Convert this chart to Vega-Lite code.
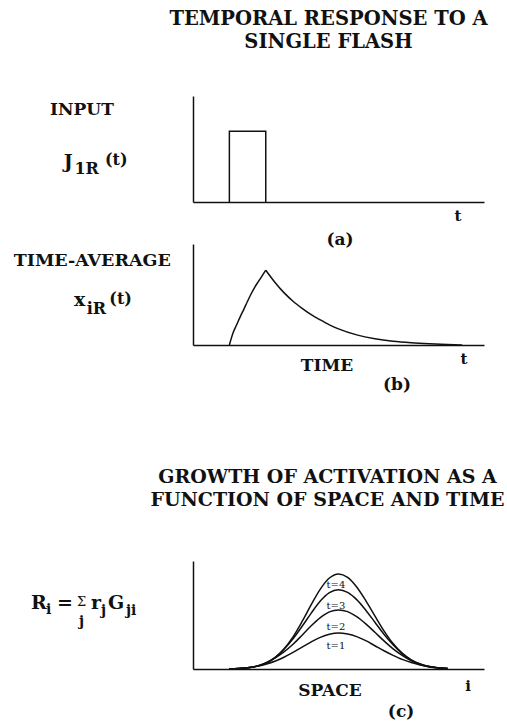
{
  "$schema": "https://vega.github.io/schema/vega-lite/v6.json",
  "background": "white",
  "padding": {"left": 13, "top": 8, "right": 0, "bottom": 0},
  "autosize": {"type": "pad"},
  "bounds": "flush",
  "spacing": 42,
  "config": {
    "view": {"stroke": null},
    "axis": {"labels": false, "ticks": false, "grid": false, "domainColor": "#111", "domainWidth": 1.5},
    "text": {"font": "DejaVu Serif", "fontWeight": "bold", "fill": "#111", "baseline": "alphabetic"},
    "line": {"stroke": "#111", "strokeWidth": 1.5}
  },
  "datasets": {
    "pulse": [
      {"k": 0, "t": 1, "J": 0},
      {"k": 1, "t": 1, "J": 1},
      {"k": 2, "t": 2, "J": 1},
      {"k": 3, "t": 2, "J": 0}
    ],
    "average": [
      {"seg": "rise", "t": 1.0, "x": 0},
      {"seg": "rise", "t": 1.1, "x": 0.16},
      {"seg": "rise", "t": 1.2, "x": 0.27},
      {"seg": "rise", "t": 1.3, "x": 0.38},
      {"seg": "rise", "t": 1.4, "x": 0.48},
      {"seg": "rise", "t": 1.5, "x": 0.585},
      {"seg": "rise", "t": 1.6, "x": 0.685},
      {"seg": "rise", "t": 1.7, "x": 0.775},
      {"seg": "rise", "t": 1.8, "x": 0.85},
      {"seg": "rise", "t": 1.9, "x": 0.925},
      {"seg": "rise", "t": 2.0, "x": 1.0},
      {"seg": "decay", "t": 2.0, "x": 1.0},
      {"seg": "decay", "t": 2.25, "x": 0.84},
      {"seg": "decay", "t": 2.5, "x": 0.7},
      {"seg": "decay", "t": 2.75, "x": 0.585},
      {"seg": "decay", "t": 3.0, "x": 0.49},
      {"seg": "decay", "t": 3.25, "x": 0.405},
      {"seg": "decay", "t": 3.5, "x": 0.335},
      {"seg": "decay", "t": 3.75, "x": 0.27},
      {"seg": "decay", "t": 4.0, "x": 0.215},
      {"seg": "decay", "t": 4.5, "x": 0.135},
      {"seg": "decay", "t": 5.0, "x": 0.083},
      {"seg": "decay", "t": 5.5, "x": 0.05},
      {"seg": "decay", "t": 6.0, "x": 0.03},
      {"seg": "decay", "t": 6.5, "x": 0.017},
      {"seg": "decay", "t": 7.0, "x": 0.008},
      {"seg": "decay", "t": 7.4, "x": 0.0}
    ],
    "growth": [
      {"step": "t=4", "i": 2, "R": 0.008}, {"step": "t=4", "i": 2.5, "R": 0.02}, {"step": "t=4", "i": 3, "R": 0.05},
      {"step": "t=4", "i": 3.5, "R": 0.12}, {"step": "t=4", "i": 4, "R": 0.25}, {"step": "t=4", "i": 4.5, "R": 0.475},
      {"step": "t=4", "i": 5, "R": 0.835}, {"step": "t=4", "i": 5.5, "R": 1.34}, {"step": "t=4", "i": 6, "R": 1.98},
      {"step": "t=4", "i": 6.5, "R": 2.68}, {"step": "t=4", "i": 7, "R": 3.33}, {"step": "t=4", "i": 7.5, "R": 3.79},
      {"step": "t=4", "i": 8, "R": 3.96}, {"step": "t=4", "i": 8.5, "R": 3.82}, {"step": "t=4", "i": 9, "R": 3.42},
      {"step": "t=4", "i": 9.5, "R": 2.85}, {"step": "t=4", "i": 10, "R": 2.21}, {"step": "t=4", "i": 10.5, "R": 1.59},
      {"step": "t=4", "i": 11, "R": 1.06}, {"step": "t=4", "i": 11.5, "R": 0.66}, {"step": "t=4", "i": 12, "R": 0.38},
      {"step": "t=4", "i": 12.5, "R": 0.21}, {"step": "t=4", "i": 13, "R": 0.1}, {"step": "t=4", "i": 13.5, "R": 0.048},
      {"step": "t=4", "i": 14, "R": 0.02},
      {"step": "t=3", "i": 2, "R": 0.008}, {"step": "t=3", "i": 2.5, "R": 0.02}, {"step": "t=3", "i": 3, "R": 0.05},
      {"step": "t=3", "i": 3.5, "R": 0.115}, {"step": "t=3", "i": 4, "R": 0.245}, {"step": "t=3", "i": 4.5, "R": 0.46},
      {"step": "t=3", "i": 5, "R": 0.82}, {"step": "t=3", "i": 5.5, "R": 1.26}, {"step": "t=3", "i": 6, "R": 1.78},
      {"step": "t=3", "i": 6.5, "R": 2.33}, {"step": "t=3", "i": 7, "R": 2.83}, {"step": "t=3", "i": 7.5, "R": 3.18},
      {"step": "t=3", "i": 8, "R": 3.3}, {"step": "t=3", "i": 8.5, "R": 3.19}, {"step": "t=3", "i": 9, "R": 2.89},
      {"step": "t=3", "i": 9.5, "R": 2.45}, {"step": "t=3", "i": 10, "R": 1.95}, {"step": "t=3", "i": 10.5, "R": 1.45},
      {"step": "t=3", "i": 11, "R": 1.01}, {"step": "t=3", "i": 11.5, "R": 0.64}, {"step": "t=3", "i": 12, "R": 0.37},
      {"step": "t=3", "i": 12.5, "R": 0.2}, {"step": "t=3", "i": 13, "R": 0.1}, {"step": "t=3", "i": 13.5, "R": 0.047},
      {"step": "t=3", "i": 14, "R": 0.02},
      {"step": "t=2", "i": 2, "R": 0.008}, {"step": "t=2", "i": 2.5, "R": 0.02}, {"step": "t=2", "i": 3, "R": 0.05},
      {"step": "t=2", "i": 3.5, "R": 0.11}, {"step": "t=2", "i": 4, "R": 0.24}, {"step": "t=2", "i": 4.5, "R": 0.45},
      {"step": "t=2", "i": 5, "R": 0.71}, {"step": "t=2", "i": 5.5, "R": 1.03}, {"step": "t=2", "i": 6, "R": 1.41},
      {"step": "t=2", "i": 6.5, "R": 1.8}, {"step": "t=2", "i": 7, "R": 2.14}, {"step": "t=2", "i": 7.5, "R": 2.38},
      {"step": "t=2", "i": 8, "R": 2.46}, {"step": "t=2", "i": 8.5, "R": 2.39}, {"step": "t=2", "i": 9, "R": 2.18},
      {"step": "t=2", "i": 9.5, "R": 1.88}, {"step": "t=2", "i": 10, "R": 1.53}, {"step": "t=2", "i": 10.5, "R": 1.17},
      {"step": "t=2", "i": 11, "R": 0.84}, {"step": "t=2", "i": 11.5, "R": 0.57}, {"step": "t=2", "i": 12, "R": 0.34},
      {"step": "t=2", "i": 12.5, "R": 0.18}, {"step": "t=2", "i": 13, "R": 0.09}, {"step": "t=2", "i": 13.5, "R": 0.043},
      {"step": "t=2", "i": 14, "R": 0.018},
      {"step": "t=1", "i": 2, "R": 0.008}, {"step": "t=1", "i": 2.5, "R": 0.02}, {"step": "t=1", "i": 3, "R": 0.05},
      {"step": "t=1", "i": 3.5, "R": 0.11}, {"step": "t=1", "i": 4, "R": 0.2}, {"step": "t=1", "i": 4.5, "R": 0.32},
      {"step": "t=1", "i": 5, "R": 0.49}, {"step": "t=1", "i": 5.5, "R": 0.69}, {"step": "t=1", "i": 6, "R": 0.91},
      {"step": "t=1", "i": 6.5, "R": 1.13}, {"step": "t=1", "i": 7, "R": 1.32}, {"step": "t=1", "i": 7.5, "R": 1.45},
      {"step": "t=1", "i": 8, "R": 1.5}, {"step": "t=1", "i": 8.5, "R": 1.46}, {"step": "t=1", "i": 9, "R": 1.35},
      {"step": "t=1", "i": 9.5, "R": 1.18}, {"step": "t=1", "i": 10, "R": 0.97}, {"step": "t=1", "i": 10.5, "R": 0.76},
      {"step": "t=1", "i": 11, "R": 0.57}, {"step": "t=1", "i": 11.5, "R": 0.4}, {"step": "t=1", "i": 12, "R": 0.27},
      {"step": "t=1", "i": 12.5, "R": 0.17}, {"step": "t=1", "i": 13, "R": 0.085}, {"step": "t=1", "i": 13.5, "R": 0.04},
      {"step": "t=1", "i": 14, "R": 0.017}
    ],
    "labels": [
      {"panel": "a", "role": "head", "text": "TEMPORAL RESPONSE TO A", "x": 3.725, "y": 2.505},
      {"panel": "a", "role": "head", "text": "SINGLE FLASH", "x": 3.725, "y": 2.183},
      {"panel": "a", "role": "name", "text": "INPUT", "x": -3.93, "y": 1.231},
      {"panel": "a", "role": "sym", "text": "J", "x": -3.554, "y": 0.481},
      {"panel": "a", "role": "sub", "text": "1R", "x": -3.26, "y": 0.396},
      {"panel": "a", "role": "arg", "text": "(t)", "x": -2.42, "y": 0.52},
      {"panel": "a", "role": "axlab", "text": "t", "x": 7.285, "y": -0.269},
      {"panel": "a", "role": "tag", "text": "(a)", "x": 4.04, "y": -0.608},
      {"panel": "b", "role": "name", "text": "TIME-AVERAGE", "x": -4.93, "y": 1.056},
      {"panel": "b", "role": "sym", "text": "x", "x": -3.272, "y": 0.521},
      {"panel": "b", "role": "sub", "text": "iR", "x": -2.92, "y": 0.414},
      {"panel": "b", "role": "arg", "text": "(t)", "x": -2.3, "y": 0.55},
      {"panel": "b", "role": "tag", "text": "TIME", "x": 3.684, "y": -0.348},
      {"panel": "b", "role": "axlab", "text": "t", "x": 7.45, "y": -0.254},
      {"panel": "b", "role": "tag", "text": "(b)", "x": 5.608, "y": -0.601},
      {"panel": "s", "role": "head", "text": "GROWTH OF ACTIVATION AS A", "x": 7.394, "y": 0.273},
      {"panel": "s", "role": "head", "text": "FUNCTION OF SPACE AND TIME", "x": 7.394, "y": 0.098},
      {"panel": "c", "role": "sym", "text": "R", "x": -8.907, "y": 2.5},
      {"panel": "c", "role": "fsub", "text": "i", "x": -8.082, "y": 2.29},
      {"panel": "c", "role": "sym", "text": "=", "x": -7.478, "y": 2.5},
      {"panel": "c", "role": "sigma", "text": "Σ", "x": -6.378, "y": 2.625},
      {"panel": "c", "role": "fsub", "text": "j", "x": -6.268, "y": 1.79},
      {"panel": "c", "role": "sym", "text": "r", "x": -5.608, "y": 2.5},
      {"panel": "c", "role": "fsub", "text": "j", "x": -5.058, "y": 2.25},
      {"panel": "c", "role": "sym", "text": "G", "x": -4.674, "y": 2.5},
      {"panel": "c", "role": "fsub", "text": "ji", "x": -3.684, "y": 2.25},
      {"panel": "c", "role": "tag", "text": "SPACE", "x": 7.53, "y": -1.125},
      {"panel": "c", "role": "axlab", "text": "i", "x": 15.12, "y": -0.917},
      {"panel": "c", "role": "tag", "text": "(c)", "x": 11.44, "y": -2.0},
      {"panel": "c", "role": "curve", "text": "t=4", "x": 7.86, "y": 3.375},
      {"panel": "c", "role": "curve", "text": "t=3", "x": 7.86, "y": 2.5},
      {"panel": "c", "role": "curve", "text": "t=2", "x": 7.86, "y": 1.625},
      {"panel": "c", "role": "curve", "text": "t=1", "x": 7.86, "y": 0.833}
    ]
  },
  "vconcat": [
    {
      "width": 291,
      "height": 106,
      "layer": [
        {
          "data": {"name": "pulse"},
          "mark": {"type": "line", "interpolate": "linear"},
          "encoding": {
            "x": {"field": "t", "type": "quantitative", "scale": {"domain": [0, 8], "nice": false}, "title": null},
            "y": {"field": "J", "type": "quantitative", "scale": {"domain": [0, 1.5], "nice": false}, "title": null},
            "order": {"field": "k"}
          }
        },
        {
          "data": {"name": "labels"},
          "transform": [{"filter": "datum.panel === 'a' && datum.role === 'head'"}],
          "mark": {"type": "text", "align": "center", "fontSize": 19.5},
          "encoding": {
            "x": {"field": "x", "type": "quantitative", "scale": {"domain": [0, 8], "nice": false}, "title": null},
            "y": {"field": "y", "type": "quantitative", "scale": {"domain": [0, 1.5], "nice": false}, "title": null},
            "text": {"field": "text"}
          }
        },
        {
          "data": {"name": "labels"},
          "transform": [{"filter": "datum.panel === 'a' && datum.role === 'name'"}],
          "mark": {"type": "text", "align": "left", "fontSize": 17},
          "encoding": {
            "x": {"field": "x", "type": "quantitative", "scale": {"domain": [0, 8], "nice": false}, "title": null},
            "y": {"field": "y", "type": "quantitative", "scale": {"domain": [0, 1.5], "nice": false}, "title": null},
            "text": {"field": "text"}
          }
        },
        {
          "data": {"name": "labels"},
          "transform": [{"filter": "datum.panel === 'a' && datum.role === 'sym'"}],
          "mark": {"type": "text", "align": "left", "fontSize": 19},
          "encoding": {
            "x": {"field": "x", "type": "quantitative", "scale": {"domain": [0, 8], "nice": false}, "title": null},
            "y": {"field": "y", "type": "quantitative", "scale": {"domain": [0, 1.5], "nice": false}, "title": null},
            "text": {"field": "text"}
          }
        },
        {
          "data": {"name": "labels"},
          "transform": [{"filter": "datum.panel === 'a' && datum.role === 'sub'"}],
          "mark": {"type": "text", "align": "left", "fontSize": 16},
          "encoding": {
            "x": {"field": "x", "type": "quantitative", "scale": {"domain": [0, 8], "nice": false}, "title": null},
            "y": {"field": "y", "type": "quantitative", "scale": {"domain": [0, 1.5], "nice": false}, "title": null},
            "text": {"field": "text"}
          }
        },
        {
          "data": {"name": "labels"},
          "transform": [{"filter": "datum.panel === 'a' && datum.role === 'arg'"}],
          "mark": {"type": "text", "align": "left", "fontSize": 16},
          "encoding": {
            "x": {"field": "x", "type": "quantitative", "scale": {"domain": [0, 8], "nice": false}, "title": null},
            "y": {"field": "y", "type": "quantitative", "scale": {"domain": [0, 1.5], "nice": false}, "title": null},
            "text": {"field": "text"}
          }
        },
        {
          "data": {"name": "labels"},
          "transform": [{"filter": "datum.panel === 'a' && datum.role === 'axlab'"}],
          "mark": {"type": "text", "align": "center", "fontSize": 15},
          "encoding": {
            "x": {"field": "x", "type": "quantitative", "scale": {"domain": [0, 8], "nice": false}, "title": null},
            "y": {"field": "y", "type": "quantitative", "scale": {"domain": [0, 1.5], "nice": false}, "title": null},
            "text": {"field": "text"}
          }
        },
        {
          "data": {"name": "labels"},
          "transform": [{"filter": "datum.panel === 'a' && datum.role === 'tag'"}],
          "mark": {"type": "text", "align": "center", "fontSize": 17},
          "encoding": {
            "x": {"field": "x", "type": "quantitative", "scale": {"domain": [0, 8], "nice": false}, "title": null},
            "y": {"field": "y", "type": "quantitative", "scale": {"domain": [0, 1.5], "nice": false}, "title": null},
            "text": {"field": "text"}
          }
        }
      ]
    },
    {
      "width": 291,
      "height": 101,
      "layer": [
        {
          "data": {"name": "average"},
          "mark": {"type": "line", "interpolate": "monotone"},
          "encoding": {
            "x": {"field": "t", "type": "quantitative", "scale": {"domain": [0, 8], "nice": false}, "title": null},
            "y": {"field": "x", "type": "quantitative", "scale": {"domain": [0, 1.35], "nice": false}, "title": null},
            "detail": {"field": "seg"}
          }
        },
        {
          "data": {"name": "labels"},
          "transform": [{"filter": "datum.panel === 'b' && datum.role === 'name'"}],
          "mark": {"type": "text", "align": "left", "fontSize": 17.5},
          "encoding": {
            "x": {"field": "x", "type": "quantitative", "scale": {"domain": [0, 8], "nice": false}, "title": null},
            "y": {"field": "y", "type": "quantitative", "scale": {"domain": [0, 1.35], "nice": false}, "title": null},
            "text": {"field": "text"}
          }
        },
        {
          "data": {"name": "labels"},
          "transform": [{"filter": "datum.panel === 'b' && datum.role === 'sym'"}],
          "mark": {"type": "text", "align": "left", "fontSize": 19},
          "encoding": {
            "x": {"field": "x", "type": "quantitative", "scale": {"domain": [0, 8], "nice": false}, "title": null},
            "y": {"field": "y", "type": "quantitative", "scale": {"domain": [0, 1.35], "nice": false}, "title": null},
            "text": {"field": "text"}
          }
        },
        {
          "data": {"name": "labels"},
          "transform": [{"filter": "datum.panel === 'b' && datum.role === 'sub'"}],
          "mark": {"type": "text", "align": "left", "fontSize": 16},
          "encoding": {
            "x": {"field": "x", "type": "quantitative", "scale": {"domain": [0, 8], "nice": false}, "title": null},
            "y": {"field": "y", "type": "quantitative", "scale": {"domain": [0, 1.35], "nice": false}, "title": null},
            "text": {"field": "text"}
          }
        },
        {
          "data": {"name": "labels"},
          "transform": [{"filter": "datum.panel === 'b' && datum.role === 'arg'"}],
          "mark": {"type": "text", "align": "left", "fontSize": 16},
          "encoding": {
            "x": {"field": "x", "type": "quantitative", "scale": {"domain": [0, 8], "nice": false}, "title": null},
            "y": {"field": "y", "type": "quantitative", "scale": {"domain": [0, 1.35], "nice": false}, "title": null},
            "text": {"field": "text"}
          }
        },
        {
          "data": {"name": "labels"},
          "transform": [{"filter": "datum.panel === 'b' && datum.role === 'axlab'"}],
          "mark": {"type": "text", "align": "center", "fontSize": 15},
          "encoding": {
            "x": {"field": "x", "type": "quantitative", "scale": {"domain": [0, 8], "nice": false}, "title": null},
            "y": {"field": "y", "type": "quantitative", "scale": {"domain": [0, 1.35], "nice": false}, "title": null},
            "text": {"field": "text"}
          }
        },
        {
          "data": {"name": "labels"},
          "transform": [{"filter": "datum.panel === 'b' && datum.role === 'tag'"}],
          "mark": {"type": "text", "align": "center", "fontSize": 17},
          "encoding": {
            "x": {"field": "x", "type": "quantitative", "scale": {"domain": [0, 8], "nice": false}, "title": null},
            "y": {"field": "y", "type": "quantitative", "scale": {"domain": [0, 1.35], "nice": false}, "title": null},
            "text": {"field": "text"}
          }
        }
      ]
    },
    {
      "width": 291,
      "height": 132,
      "data": {"name": "labels"},
      "transform": [{"filter": "datum.panel === 's'"}],
      "mark": {"type": "text", "align": "center", "fontSize": 19},
      "encoding": {
        "x": {"field": "x", "type": "quantitative", "scale": {"domain": [0, 16], "nice": false}, "axis": null},
        "y": {"field": "y", "type": "quantitative", "scale": {"domain": [0, 1], "nice": false}, "axis": null},
        "text": {"field": "text"}
      }
    },
    {
      "width": 291,
      "height": 108,
      "layer": [
        {
          "data": {"name": "growth"},
          "mark": {"type": "line", "interpolate": "monotone"},
          "encoding": {
            "x": {"field": "i", "type": "quantitative", "scale": {"domain": [0, 16], "nice": false}, "title": null},
            "y": {"field": "R", "type": "quantitative", "scale": {"domain": [0, 4.5], "nice": false}, "title": null},
            "detail": {"field": "step"}
          }
        },
        {
          "data": {"name": "labels"},
          "transform": [{"filter": "datum.panel === 'c' && datum.role === 'sym'"}],
          "mark": {"type": "text", "align": "left", "fontSize": 19},
          "encoding": {
            "x": {"field": "x", "type": "quantitative", "scale": {"domain": [0, 16], "nice": false}, "title": null},
            "y": {"field": "y", "type": "quantitative", "scale": {"domain": [0, 4.5], "nice": false}, "title": null},
            "text": {"field": "text"}
          }
        },
        {
          "data": {"name": "labels"},
          "transform": [{"filter": "datum.panel === 'c' && datum.role === 'fsub'"}],
          "mark": {"type": "text", "align": "left", "fontSize": 14},
          "encoding": {
            "x": {"field": "x", "type": "quantitative", "scale": {"domain": [0, 16], "nice": false}, "title": null},
            "y": {"field": "y", "type": "quantitative", "scale": {"domain": [0, 4.5], "nice": false}, "title": null},
            "text": {"field": "text"}
          }
        },
        {
          "data": {"name": "labels"},
          "transform": [{"filter": "datum.panel === 'c' && datum.role === 'sigma'"}],
          "mark": {"type": "text", "align": "left", "fontSize": 13, "fontWeight": "normal"},
          "encoding": {
            "x": {"field": "x", "type": "quantitative", "scale": {"domain": [0, 16], "nice": false}, "title": null},
            "y": {"field": "y", "type": "quantitative", "scale": {"domain": [0, 4.5], "nice": false}, "title": null},
            "text": {"field": "text"}
          }
        },
        {
          "data": {"name": "labels"},
          "transform": [{"filter": "datum.panel === 'c' && datum.role === 'axlab'"}],
          "mark": {"type": "text", "align": "center", "fontSize": 15},
          "encoding": {
            "x": {"field": "x", "type": "quantitative", "scale": {"domain": [0, 16], "nice": false}, "title": null},
            "y": {"field": "y", "type": "quantitative", "scale": {"domain": [0, 4.5], "nice": false}, "title": null},
            "text": {"field": "text"}
          }
        },
        {
          "data": {"name": "labels"},
          "transform": [{"filter": "datum.panel === 'c' && datum.role === 'tag'"}],
          "mark": {"type": "text", "align": "center", "fontSize": 17},
          "encoding": {
            "x": {"field": "x", "type": "quantitative", "scale": {"domain": [0, 16], "nice": false}, "title": null},
            "y": {"field": "y", "type": "quantitative", "scale": {"domain": [0, 4.5], "nice": false}, "title": null},
            "text": {"field": "text"}
          }
        },
        {
          "data": {"name": "labels"},
          "transform": [{"filter": "datum.panel === 'c' && datum.role === 'curve'"}],
          "mark": {"type": "text", "align": "center", "fontSize": 10, "fontWeight": "normal", "fill": "#111"},
          "encoding": {
            "x": {"field": "x", "type": "quantitative", "scale": {"domain": [0, 16], "nice": false}, "title": null},
            "y": {"field": "y", "type": "quantitative", "scale": {"domain": [0, 4.5], "nice": false}, "title": null},
            "text": {"field": "text"}
          }
        }
      ]
    }
  ]
}
